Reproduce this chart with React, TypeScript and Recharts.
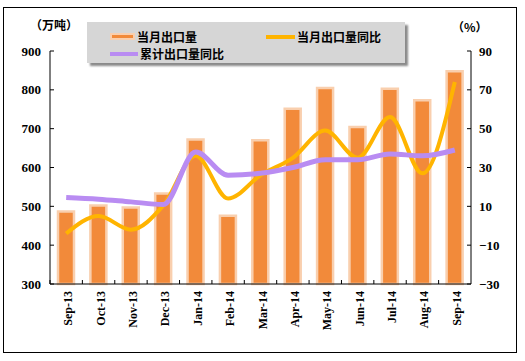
import React from 'react';
import {
  ComposedChart, Bar, Line, XAxis, YAxis, Legend
} from 'recharts';

const months = ['Sep-13', 'Oct-13', 'Nov-13', 'Dec-13', 'Jan-14', 'Feb-14', 'Mar-14', 'Apr-14', 'May-14', 'Jun-14', 'Jul-14', 'Aug-14', 'Sep-14'];
const exportVolume = [487, 502, 497, 533, 672, 476, 670, 751, 805, 704, 803, 773, 848];
const monthYoY = [-4, 5, -2, 10.5, 36, 14, 26, 35, 49, 35, 56, 27, 74];
const cumYoY = [14.6, 13.7, 12.3, 11, 38, 26, 27, 30, 34, 34, 37, 36, 39];
const leftTicks = [300, 400, 500, 600, 700, 800, 900];
const rightTicks = [-30, -10, 10, 30, 50, 70, 90];

const data = months.map((m, i) => ({
  month: m,
  vol: exportVolume[i],
  yoy: monthYoY[i],
  cum: cumYoY[i],
}));

const PLOT_LEFT = 50;
const PLOT_RIGHT = 471;
const PLOT_BOTTOM = 284;
const BAND = (PLOT_RIGHT - PLOT_LEFT) / months.length;

const ORANGE = '#f28a3a';
const PEACH = '#f9cfae';
const YELLOW = '#ffb400';
const PURPLE = '#b98cf2';

const tickFont = { fontFamily: '"Liberation Serif", serif', fontWeight: 700 };
const cjkFont = '"Noto Sans CJK SC", sans-serif';

const LeftTick = (props: any) => {
  const { y, payload } = props;
  return (
    <g>
      <line x1={PLOT_LEFT} x2={PLOT_LEFT + 4} y1={y} y2={y} stroke="#000" />
      <text x={41} y={y} textAnchor="end" dominantBaseline="central" fontSize={13} fill="#000" style={tickFont}>
        {payload.value}
      </text>
    </g>
  );
};

const RightTick = (props: any) => {
  const { y, payload } = props;
  const v = payload.value;
  return (
    <g>
      <line x1={PLOT_RIGHT - 4} x2={PLOT_RIGHT} y1={y} y2={y} stroke="#000" />
      <text x={479} y={y} textAnchor="start" dominantBaseline="central" fontSize={13} fill="#000" style={tickFont}>
        {v < 0 ? '\u2212' + Math.abs(v) : v}
      </text>
    </g>
  );
};

const MonthTick = (props: any) => {
  const { x, payload } = props;
  return (
    <g>
      <line x1={x - BAND / 2} x2={x - BAND / 2} y1={PLOT_BOTTOM} y2={PLOT_BOTTOM - 4} stroke="#000" />
      <text
        transform={`translate(${x + 2},${PLOT_BOTTOM + 7}) rotate(-90)`}
        textAnchor="end"
        dominantBaseline="central"
        fontSize={12}
        fill="#000"
        style={tickFont}
      >
        {payload.value}
      </text>
    </g>
  );
};

const LegendBox = () => (
  <div
    style={{
      width: 318, height: 41, background: '#d6d6d6', boxShadow: '3px 3px 2px #8a8a8a',
      position: 'relative', fontFamily: cjkFont, fontWeight: 700, fontSize: 12, color: '#000',
    }}
  >
    <div style={{ position: 'absolute', left: 23, top: 6, display: 'flex', alignItems: 'center' }}>
      <div style={{ width: 21, height: 3, background: ORANGE, border: `2px solid ${PEACH}`, marginRight: 2 }} />
      <span>当月出口量</span>
    </div>
    <div style={{ position: 'absolute', left: 179, top: 6, display: 'flex', alignItems: 'center' }}>
      <div style={{ width: 29, height: 4, background: YELLOW, marginRight: 2 }} />
      <span>当月出口量同比</span>
    </div>
    <div style={{ position: 'absolute', left: 23, top: 23, display: 'flex', alignItems: 'center' }}>
      <div style={{ width: 28, height: 4, background: PURPLE, marginRight: 2 }} />
      <span>累计出口量同比</span>
    </div>
  </div>
);

export default function App() {
  return (
    <div style={{ position: 'absolute', left: 0, top: 0, width: 525, height: 361, background: '#fff' }}>
      <div style={{ position: 'absolute', left: 3, top: 7, width: 514, height: 346, border: '1px solid #000', boxSizing: 'border-box' }} />
      <div style={{ position: 'absolute', left: 30, top: 16, fontFamily: cjkFont, fontWeight: 700, fontSize: 12 }}>（万吨）</div>
      <div style={{ position: 'absolute', left: 452, top: 18, fontFamily: cjkFont, fontWeight: 700, fontSize: 12 }}>（%）</div>
      <div style={{ position: 'absolute', left: 0, top: 0 }}>
        <ComposedChart
          width={525}
          height={361}
          data={data}
          margin={{ top: 51, right: 14, bottom: 27, left: 10 }}
          barSize={16}
        >
          <XAxis
            dataKey="month"
            height={50}
            axisLine={{ stroke: '#000' }}
            tickLine={false}
            tick={<MonthTick />}
            interval={0}
          />
          <YAxis
            yAxisId="left"
            domain={[300, 900]}
            ticks={leftTicks}
            width={40}
            axisLine={{ stroke: '#000' }}
            tickLine={false}
            tick={<LeftTick />}
            interval={0}
          />
          <YAxis
            yAxisId="right"
            orientation="right"
            domain={[-30, 90]}
            ticks={rightTicks}
            width={40}
            axisLine={{ stroke: '#000' }}
            tickLine={false}
            tick={<RightTick />}
            interval={0}
          />
          <Legend
            layout="horizontal"
            verticalAlign="middle"
            align="center"
            content={<LegendBox />}
            wrapperStyle={{ left: 87, top: 22, width: 318, height: 41 }}
          />
          <Bar yAxisId="left" dataKey="vol" name="当月出口量" fill={ORANGE} stroke={PEACH} strokeWidth={2.5} isAnimationActive={false} />
          <Line yAxisId="right" dataKey="yoy" name="当月出口量同比" type="monotone" stroke={YELLOW} strokeWidth={4} dot={false} activeDot={false} isAnimationActive={false} />
          <Line yAxisId="right" dataKey="cum" name="累计出口量同比" type="monotone" stroke={PURPLE} strokeWidth={5} dot={false} activeDot={false} isAnimationActive={false} />
        </ComposedChart>
      </div>
    </div>
  );
}
